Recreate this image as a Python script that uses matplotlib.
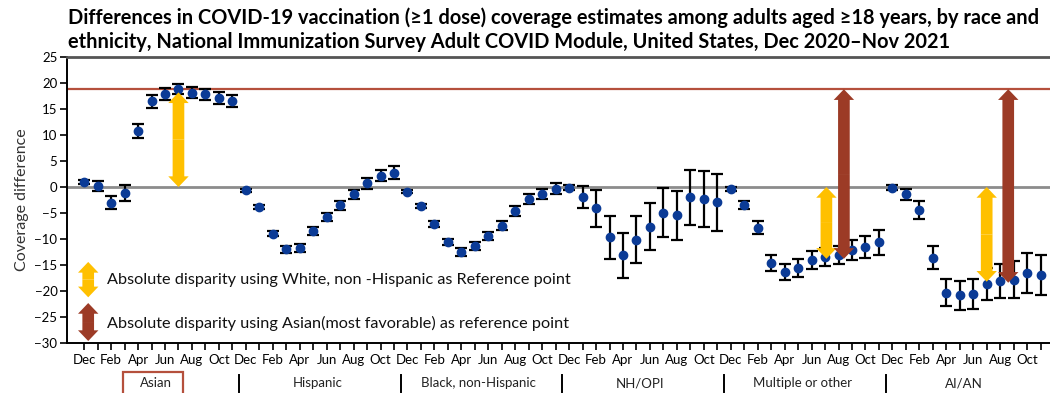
import matplotlib
matplotlib.use("Agg")
import matplotlib.pyplot as plt
from matplotlib.patches import FancyArrowPatch, Rectangle
import matplotlib.transforms as mtransforms
import numpy as np

plt.rcParams['font.family'] = ['Lato', 'DejaVu Sans']

# data
months = ["Dec", "Jan", "Feb", "Mar", "Apr", "May", "Jun", "Jul", "Aug", "Sep", "Oct", "Nov"]
groups = ["Asian", "Hispanic", "Black, non-Hispanic", "NH/OPI", "Multiple or other", "AI/AN"]

asian = [1.0, 0.2, -3.0, -1.2, 10.8, 16.5, 17.9, 18.8, 18.1, 17.8, 17.1, 16.5]
asian_err = [0.4, 0.9, 1.2, 1.5, 1.4, 1.25, 1.1, 1.0, 1.05, 1.05, 1.1, 1.1]

hispanic = [-0.6, -3.8, -9.0, -12.0, -11.7, -8.5, -5.8, -3.5, -1.4, 0.7, 2.2, 2.75]
hispanic_err = [0.3, 0.4, 0.5, 0.6, 0.7, 0.8, 0.8, 0.9, 0.9, 1.0, 1.1, 1.2]

black = [-0.9, -3.7, -7.1, -10.5, -12.5, -11.3, -9.4, -7.4, -4.6, -2.3, -1.3, -0.3]
black_err = [0.3, 0.4, 0.5, 0.6, 0.7, 0.8, 0.8, 0.9, 0.9, 1.0, 1.0, 1.1]

nhopi = [-0.1, -1.9, -4.1, -9.7, -13.1, -10.1, -7.6, -4.9, -5.4, -2.0, -2.3, -2.9]
nhopi_err = [0.5, 2.1, 3.5, 4.1, 4.3, 4.5, 4.5, 4.65, 4.7, 5.3, 5.4, 5.5]

multiple = [-0.45, -3.5, -7.8, -14.6, -16.3, -15.6, -14.0, -13.4, -13.1, -12.1, -11.5, -10.6]
multiple_err = [0.4, 0.8, 1.2, 1.45, 1.6, 1.7, 1.7, 1.7, 1.7, 2.0, 2.15, 2.4]

aian = [-0.1, -1.35, -4.4, -13.6, -20.3, -20.8, -20.6, -18.7, -18.0, -17.8, -16.5, -16.9]
aian_err = [0.4, 1.05, 1.75, 2.25, 2.6, 2.75, 2.9, 3.1, 3.3, 3.5, 3.8, 3.9]

values = [asian, hispanic, black, nhopi, multiple, aian]
errors = [asian_err, hispanic_err, black_err, nhopi_err, multiple_err, aian_err]

# reference level (Asian, most favorable)
ref = max(asian)

# arrows: (group, month position, start, end)
yellow_arrows = [(0, 7.0, 0, ref - 0.6), (4, 7.1, 0, -13.8), (5, 7.0, 0, -18.2)]
brown_arrows = [(4, 8.4, ref, -13.8), (5, 8.6, ref, -18.4)]

YELLOW = "#FFC000"
BROWN = "#9C3B26"
RED = "#B5503C"
BLUE = "#0B3B96"

fig = plt.figure(figsize=(10.5, 3.93), dpi=100)
ax = fig.add_axes([0.064, 0.127, 0.936, 0.728])

n = len(months)
for g, (vals, errs) in enumerate(zip(values, errors)):
    x = np.arange(n) + g * n
    ax.errorbar(x, vals, yerr=errs, fmt='o', color=BLUE, ms=6,
                ecolor='black', elinewidth=1.6, capsize=4, capthick=1.6, zorder=3)

ax.axhline(0, color='#8c8c8c', lw=2, zorder=1)
ax.axhline(ref, color=RED, lw=1.6, zorder=1)


def double_arrow(x, y0, y1, color):
    mid = (y0 + y1) / 2
    for end in (y0, y1):
        a = FancyArrowPatch((x, mid), (x, end), arrowstyle="simple,head_length=0.55,head_width=1.05,tail_width=0.6",
                            mutation_scale=14, color=color, lw=0, shrinkA=0, shrinkB=0, zorder=4)
        ax.add_patch(a)


for g, m, y0, y1 in yellow_arrows:
    double_arrow(g * n + m, y0, y1, YELLOW)
for g, m, y0, y1 in brown_arrows:
    double_arrow(g * n + m, y0, y1, BROWN)

# legend
double_arrow(0.3, -14.4, -21.2, YELLOW)
double_arrow(0.3, -22.3, -29.6, BROWN)
ax.text(1.7, -17.9, "Absolute disparity using White, non -Hispanic as Reference point",
        fontsize=11.7, va='center', ha='left', color='#111111')
ax.text(1.7, -26.2, "Absolute disparity using Asian(most favorable) as reference point",
        fontsize=11.7, va='center', ha='left', color='#111111')

ax.set_xlim(-1.26, 71.7)
ax.set_ylim(-30, 25)
ax.set_yticks(np.arange(-30, 26, 5))
ax.set_yticklabels([str(v).replace('-', '\u2212') for v in range(-30, 26, 5)], fontsize=9.5)
ax.set_ylabel("Coverage difference", fontsize=11.5, color='#333333', labelpad=4)

ticks = np.arange(n * len(groups))
ax.set_xticks(ticks)
ax.set_xticklabels([months[i % n] if i % 2 == 0 else "" for i in ticks], fontsize=9.5)
ax.tick_params(axis='x', length=5, width=1.2, pad=3)
ax.tick_params(axis='y', length=5, width=1.2, pad=2)

for s in ['left', 'bottom']:
    ax.spines[s].set_linewidth(1.4)
ax.spines['top'].set_color('#555555')
ax.spines['top'].set_linewidth(2)
ax.spines['right'].set_visible(False)

# group labels under the months
trans = mtransforms.blended_transform_factory(ax.transData, ax.transAxes)
for g, name in enumerate(groups):
    ax.text(g * n + 5.3, -0.14, name, transform=trans, ha='center', va='center', fontsize=9.5, color='#222222')
    if g > 0:
        ax.plot([g * n - 0.5, g * n - 0.5], [-0.112, -0.171], transform=trans, color='black', lw=1.4, clip_on=False)
ax.add_patch(Rectangle((2.9, -0.2), 4.4, 0.099, transform=trans, fill=False, edgecolor=RED, lw=1.6, clip_on=False))

fig.text(0.065, 0.955, "Differences in COVID-19 vaccination (\u22651 dose) coverage estimates among adults aged \u226518 years, by race and",
         fontsize=14.4, fontweight='bold', va='center', ha='left')
fig.text(0.065, 0.893, "ethnicity, National Immunization Survey Adult COVID Module, United States, Dec 2020\u2013Nov 2021",
         fontsize=14.4, fontweight='bold', va='center', ha='left')

fig.savefig("out.png", dpi=100)
